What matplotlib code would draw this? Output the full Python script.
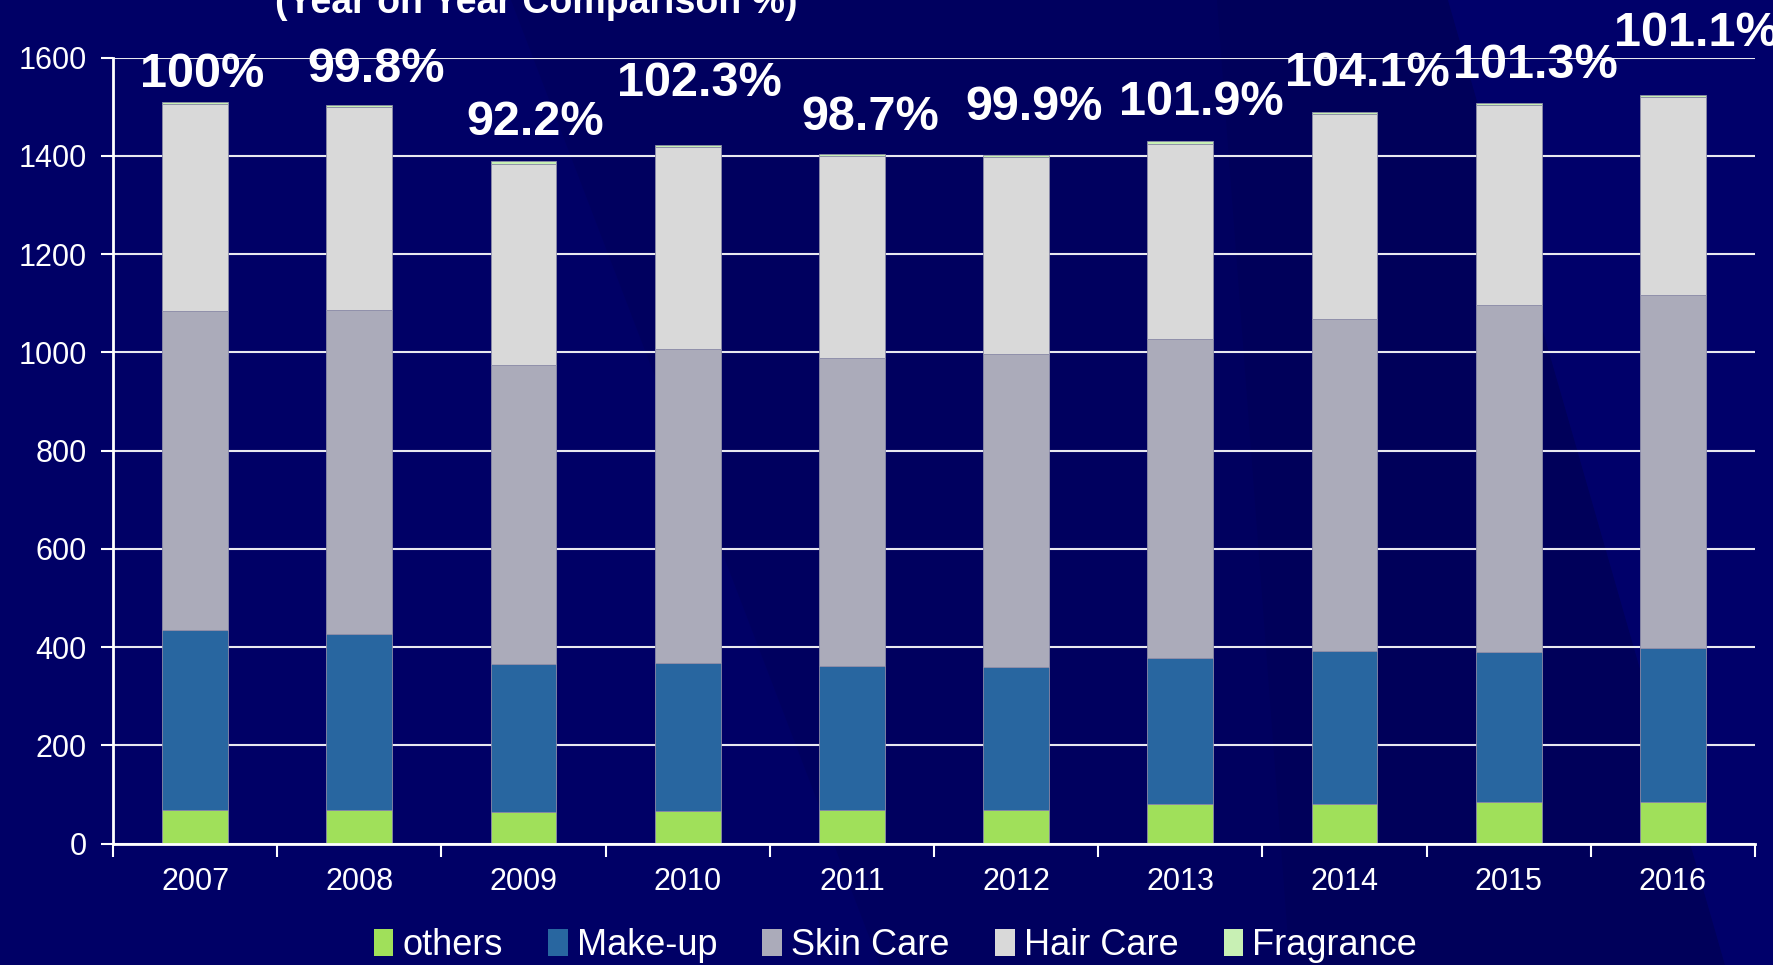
import numpy as np
import matplotlib
matplotlib.use('Agg')
import matplotlib.pyplot as plt
from matplotlib.patches import Polygon, Patch

plt.rcParams['font.family'] = ['Liberation Sans', 'DejaVu Sans']

years = ['2007', '2008', '2009', '2010', '2011', '2012', '2013', '2014', '2015', '2016']
others = [69, 69, 64, 67, 69, 69, 81, 81, 85, 85]
makeup = [366, 357, 302, 301, 292, 290, 297, 310, 304, 313]
skincare = [649, 661, 608, 638, 627, 638, 649, 677, 707, 718]
haircare = [421, 412, 410, 412, 412, 400, 398, 417, 407, 403]
fragrance = [5, 5, 5, 5, 4, 5, 5, 4, 5, 5]
yoy = ['100%', '99.8%', '92.2%', '102.3%', '98.7%', '99.9%', '101.9%', '104.1%', '101.3%', '101.1%']

series = [('others', others, '#A0E05A'),
          ('Make-up', makeup, '#2866A0'),
          ('Skin Care', skincare, '#ABABBA'),
          ('Hair Care', haircare, '#D9D9D9'),
          ('Fragrance', fragrance, '#C8F0B4')]

# where the yoy labels sit (baseline, data units) and their x shift
lab_y = [1541, 1551, 1443, 1522, 1453, 1473, 1483, 1542, 1559, 1624]
lab_dx = [0.04, 0.10, 0.07, 0.07, 0.11, 0.11, 0.13, 0.14, 0.16, 0.14]

bg = '#000066'
W, H = 1773, 965
fig = plt.figure(figsize=(17.73, 9.65), dpi=100, facecolor=bg)

# faint diagonal bands in the slide background, on their own axes behind everything
bgax = fig.add_axes([0, 0, 1, 1], zorder=-10)
bgax.set_xlim(0, W)
bgax.set_ylim(H, 0)
bgax.axis('off')
bgax.add_patch(Polygon([(511, 0), (1448, 0), (1725, 965), (880, 965)], facecolor='#00005F', edgecolor='none'))
bgax.add_patch(Polygon([(1217, 0), (1448, 0), (1725, 965), (1290, 965)], facecolor='#00005A', edgecolor='none'))
bgax.add_patch(Polygon([(1448, 0), (1773, 0), (1773, 965), (1725, 965)], facecolor='#00006A', edgecolor='none'))

ax = fig.add_axes([113 / W, 1 - 843.5 / H, (1755 - 113) / W, (843.5 - 57.7) / H])
ax.set_facecolor('none')

x = np.arange(len(years))
bottom = np.zeros(len(years))
for name, vals, col in series:
    ax.bar(x, vals, 0.4, bottom=bottom, color=col, edgecolor='#8C8CA8',
           linewidth=0.6, label=name, zorder=3)
    bottom += np.array(vals)

for i, t in enumerate(yoy):
    ax.text(x[i] + lab_dx[i], lab_y[i], t, ha='center', va='baseline',
            fontsize=35, fontweight='bold', color='white', zorder=5, clip_on=False)

ax.set_xlim(-0.5, len(years) - 0.5)
ax.set_ylim(0, 1600)
ax.set_yticks(range(0, 1601, 200))
ax.grid(axis='y', color='#E8E8F0', linewidth=1.5, zorder=1)
ax.set_axisbelow(True)

ax.set_xticks(x)
ax.set_xticklabels(years)
ax.set_xticks(np.arange(-0.5, len(years)), minor=True)
ax.tick_params(axis='x', which='major', length=0, pad=17, labelsize=22, colors='white')
ax.tick_params(axis='x', which='minor', length=9, width=1.5, color='white', direction='out')
ax.tick_params(axis='y', length=9, width=1.5, color='white', labelsize=22,
               labelcolor='white', pad=10)

for s in ['top', 'right']:
    ax.spines[s].set_visible(False)
for s in ['left', 'bottom']:
    ax.spines[s].set_color('white')
    ax.spines[s].set_linewidth(2)
ax.spines['bottom'].set_zorder(4)

handles = [Patch(facecolor=c, edgecolor='none') for _, _, c in series]
leg = fig.legend(handles, [n for n, _, _ in series], loc='center', ncol=5,
                 bbox_to_anchor=(0.505, 0.02), frameon=False, fontsize=26,
                 handlelength=0.55, handleheight=0.75, handletextpad=0.25,
                 columnspacing=1.25, labelcolor='white', borderpad=0)

# the slide title runs off the top edge in the original
fig.text(536 / W, 1 - 13 / H, '(Year on Year Comparison %)', ha='center',
         va='baseline', fontsize=27, fontweight='bold', color='white')

fig.savefig('out.png', dpi=100, facecolor=bg)
